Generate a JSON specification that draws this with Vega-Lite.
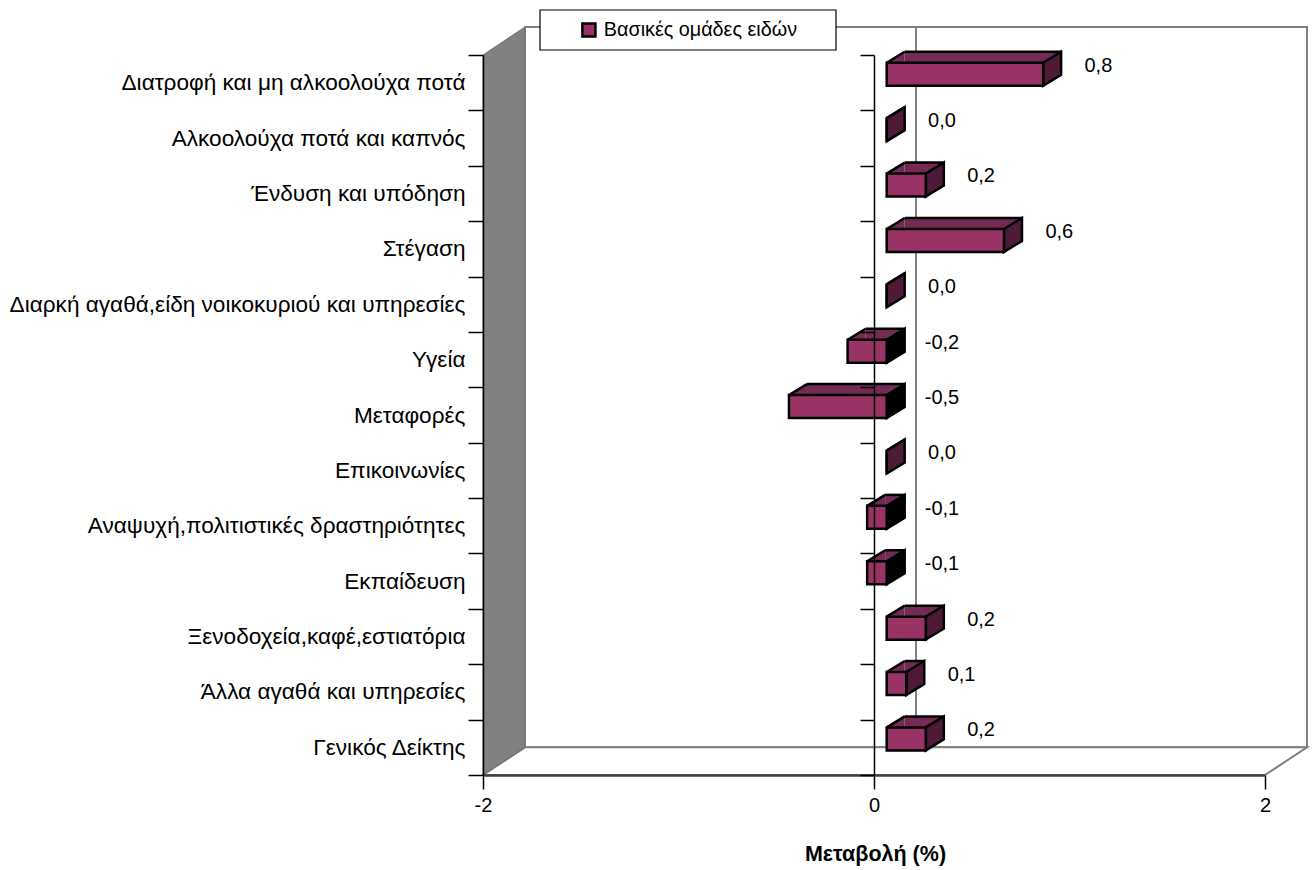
{
"$schema":"https://vega.github.io/schema/vega-lite/v6.json",
"width":1315,"height":870,"padding":0,"autosize":{"type":"none"},"background":"white",
"config":{"font":"Liberation Sans","view":{"stroke":null},"axis":{"grid":false}},
"datasets":{
"main":[
{"category":"Διατροφή και μη αλκοολούχα ποτά","value":0.8,"low":0,"high":0.8,"label":"0,8","series":"Βασικές ομάδες ειδών"},
{"category":"Αλκοολούχα ποτά και καπνός","value":0,"low":0,"high":0,"label":"0,0","series":"Βασικές ομάδες ειδών"},
{"category":"Ένδυση και υπόδηση","value":0.2,"low":0,"high":0.2,"label":"0,2","series":"Βασικές ομάδες ειδών"},
{"category":"Στέγαση","value":0.6,"low":0,"high":0.6,"label":"0,6","series":"Βασικές ομάδες ειδών"},
{"category":"Διαρκή αγαθά,είδη νοικοκυριού και υπηρεσίες","value":0,"low":0,"high":0,"label":"0,0","series":"Βασικές ομάδες ειδών"},
{"category":"Υγεία","value":-0.2,"low":-0.2,"high":0,"label":"-0,2","series":"Βασικές ομάδες ειδών"},
{"category":"Μεταφορές","value":-0.5,"low":-0.5,"high":0,"label":"-0,5","series":"Βασικές ομάδες ειδών"},
{"category":"Επικοινωνίες","value":0,"low":0,"high":0,"label":"0,0","series":"Βασικές ομάδες ειδών"},
{"category":"Αναψυχή,πολιτιστικές δραστηριότητες","value":-0.1,"low":-0.1,"high":0,"label":"-0,1","series":"Βασικές ομάδες ειδών"},
{"category":"Εκπαίδευση","value":-0.1,"low":-0.1,"high":0,"label":"-0,1","series":"Βασικές ομάδες ειδών"},
{"category":"Ξενοδοχεία,καφέ,εστιατόρια","value":0.2,"low":0,"high":0.2,"label":"0,2","series":"Βασικές ομάδες ειδών"},
{"category":"Άλλα αγαθά και υπηρεσίες","value":0.1,"low":0,"high":0.1,"label":"0,1","series":"Βασικές ομάδες ειδών"},
{"category":"Γενικός Δείκτης","value":0.2,"low":0,"high":0.2,"label":"0,2","series":"Βασικές ομάδες ειδών"}
],
"anchor":[{"frame":"chart"}]
},
"resolve":{"axis":{"y":"independent"}},
"layer":[
{"data":{"name":"anchor"},
 "mark":{"type":"point","filled":true,"size":4,"opacity":1,"fill":"white","stroke":"#808080","strokeWidth":2,"shape":"M42,0 L824,0 L824,-720.3 L42,-720.3 Z"},
 "encoding":{
  "x":{"datum":-2,"type":"quantitative","scale":{"domain":[-2,2],"range":[483,1265],"nice":false,"zero":false},
   "axis":{"values":[-2,0,2],"offset":-95,"zindex":1,"title":"Μεταβολή (%)","titleFontSize":21.5,"titleFontWeight":"bold","titleColor":"#000","titleBaseline":"alphabetic","titleY":85,"titleX":875,"labelFontSize":20,"labelColor":"#000","labelPadding":6,"labelFlush":false,"tickSize":14,"tickColor":"#000","tickWidth":1.5,"domainColor":"#404040","domainWidth":2.5,"format":"d","labelExpr":"replace(datum.label,'−','-')"}},
  "y":{"datum":"Γενικός Δείκτης","type":"nominal","scale":{"domain":["Διατροφή και μη αλκοολούχα ποτά","Αλκοολούχα ποτά και καπνός","Ένδυση και υπόδηση","Στέγαση","Διαρκή αγαθά,είδη νοικοκυριού και υπηρεσίες","Υγεία","Μεταφορές","Επικοινωνίες","Αναψυχή,πολιτιστικές δραστηριότητες","Εκπαίδευση","Ξενοδοχεία,καφέ,εστιατόρια","Άλλα αγαθά και υπηρεσίες","Γενικός Δείκτης"],"range":[55,775],"paddingInner":0,"paddingOuter":0},"axis":null}}},
{"data":{"name":"anchor"},
 "mark":{"type":"point","filled":true,"size":4,"opacity":1,"fill":"white","stroke":"#808080","strokeWidth":2,"shape":"M0,27.7 L42,0 L824,0 L782,27.7 Z"},
 "encoding":{"x":{"datum":-2,"type":"quantitative"},"y":{"datum":"Γενικός Δείκτης","type":"nominal","axis":null}}},
{"data":{"name":"anchor"},
 "mark":{"type":"point","filled":true,"size":4,"opacity":1,"fill":"#808080","stroke":"#707070","strokeWidth":1,"shape":"M0,27.7 L42,0 L42,-720.3 L0,-692.3 Z"},
 "encoding":{"x":{"datum":-2,"type":"quantitative"},"y":{"datum":"Γενικός Δείκτης","type":"nominal","axis":null}}},
{"data":{"name":"anchor"},
 "mark":{"type":"point","filled":false,"size":4,"opacity":1,"stroke":"#808080","strokeWidth":2,"shape":"M42,0 L42,-720.3"},
 "encoding":{"x":{"datum":0,"type":"quantitative"},"y":{"datum":"Γενικός Δείκτης","type":"nominal","axis":null}}},
{"data":{"name":"anchor"},
 "mark":{"type":"point","filled":true,"size":4,"opacity":1,"fill":"white","stroke":"#000","strokeWidth":1.2,"shape":"M-334,-72.7 L-38,-72.7 L-38,-32.7 L-334,-32.7 Z"},
 "encoding":{"x":{"datum":0,"type":"quantitative"},"y":{"datum":"Διατροφή και μη αλκοολούχα ποτά","type":"nominal","axis":null}}},
{"data":{"name":"main"},
 "mark":{"type":"bar","fill":"#732a55","size":11,"xOffset":30.7,"x2Offset":30.7,"yOffset":-25.4},
 "encoding":{"x":{"field":"low","type":"quantitative"},"x2":{"field":"high"},"y":{"field":"category","type":"nominal","axis":null}}},
{"data":{"name":"main"},
 "mark":{"type":"point","filled":true,"size":4,"opacity":1,"fill":"#732a55","shape":"M12.7,-19.9 L30.7,-30.9 L30.7,-19.9 Z"},
 "encoding":{"x":{"field":"low","type":"quantitative"},"y":{"field":"category","type":"nominal","axis":null}}},
{"data":{"name":"main"},
 "mark":{"type":"point","filled":false,"size":4,"opacity":1,"stroke":"#000","strokeWidth":2.5,"shape":"M12.7,-19.9 L30.7,-30.9"},
 "encoding":{"x":{"field":"low","type":"quantitative"},"y":{"field":"category","type":"nominal","axis":null}}},
{"data":{"name":"main"},
 "mark":{"type":"bar","fill":"#000","size":2.5,"xOffset":30.7,"x2Offset":30.7,"yOffset":-30.9},
 "encoding":{"x":{"field":"low","type":"quantitative"},"x2":{"field":"high"},"y":{"field":"category","type":"nominal","axis":null}}},
{"data":{"name":"main"},
 "mark":{"type":"point","filled":true,"size":4,"opacity":1,"stroke":"#000","strokeWidth":2.5,"shape":"M12.7,-19.9 L30.7,-30.9 L30.7,-7.9 L12.7,3.1 Z"},
 "encoding":{"x":{"field":"high","type":"quantitative"},"y":{"field":"category","type":"nominal","axis":null},
  "fill":{"condition":{"test":"datum.value<0","value":"#000000"},"value":"#4d1a38"}}},
{"data":{"name":"main"},
 "mark":{"type":"bar","size":23,"xOffset":12.7,"x2Offset":12.7,"yOffset":-8.4,"stroke":"#000","strokeWidth":2.5},
 "encoding":{"x":{"field":"low","type":"quantitative"},"x2":{"field":"high"},
  "y":{"field":"category","type":"nominal","title":null,"axis":{"orient":"left","offset":-874,"zindex":1,"labels":false,"title":null,"tickBand":"extent","tickSize":14,"tickColor":"#000","tickWidth":1.5,"domainColor":"#000","domainWidth":1.5}},
  "color":{"field":"series","type":"nominal","scale":{"range":["#993366"]},
   "legend":{"title":null,"orient":"none","legendX":579,"legendY":20,"padding":0,"symbolType":"square","symbolSize":170,"symbolStrokeWidth":2.5,"symbolStrokeColor":"#000","labelFontSize":19.8,"labelColor":"#000","labelOffset":5,"labelLimit":400}}}},
{"data":{"name":"main"},
 "mark":{"type":"text","fontSize":20,"color":"#000","align":"center","baseline":"middle","xOffset":68,"yOffset":-17},
 "encoding":{"x":{"field":"high","type":"quantitative"},
  "y":{"field":"category","type":"nominal","title":null,"axis":{"orient":"left","offset":-483,"zindex":1,"title":null,"tickBand":"extent","tickSize":15,"tickColor":"#000","tickWidth":1.5,"domainColor":"#000","domainWidth":1.5,"labelFontSize":22.6,"labelColor":"#000","labelPadding":3,"labelLimit":600}},
  "text":{"field":"label"}}}
]
}
